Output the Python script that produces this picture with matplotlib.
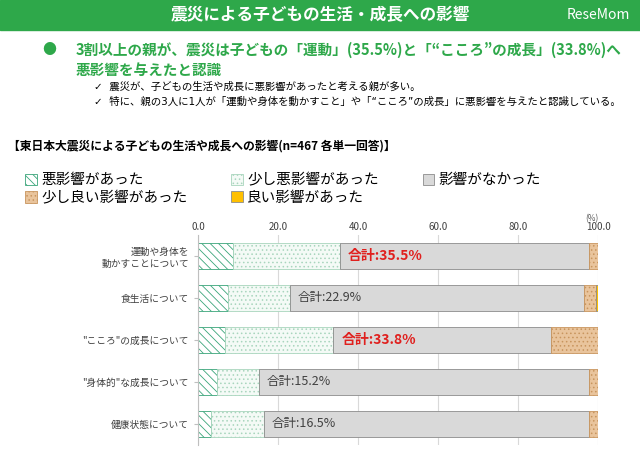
import numpy as np
import matplotlib.pyplot as plt
from matplotlib.patches import Rectangle

plt.rcParams['font.family'] = 'Noto Sans CJK JP'
plt.rcParams['hatch.linewidth'] = 0.6

categories = ['運動や身体を\n動かすことについて', '食生活について', '"こころ"の成長について',
              '"身体的"な成長について', '健康状態について']
bad = [8.7, 7.4, 6.8, 4.7, 3.3]
little_bad = [26.8, 15.5, 27.0, 10.5, 13.2]
none = [62.2, 73.6, 54.4, 82.5, 81.2]
little_good = [2.3, 2.9, 11.8, 2.3, 2.3]
good = [0.0, 0.6, 0.0, 0.0, 0.0]
totals = ['合計:35.5%', '合計:22.9%', '合計:33.8%', '合計:15.2%', '合計:16.5%']
highlight = [True, False, True, False, False]

series = [
    ('悪影響があった', bad, '#ffffff', '#3aa57a', '\\\\\\\\'),
    ('少し悪影響があった', little_bad, '#f4faf6', '#a8d5bd', '....'),
    ('影響がなかった', none, '#d9d9d9', '#d9d9d9', None),
    ('少し良い影響があった', little_good, '#e9c49c', '#c8955e', '....'),
    ('良い影響があった', good, '#ffc000', '#ffc000', None),
]

fig = plt.figure(figsize=(6.4, 4.59), dpi=100)

# header band
fig.patches.append(Rectangle((0, 1 - 30 / 459), 1, 30 / 459, transform=fig.transFigure,
                             color='#2ea84a', zorder=0))
fig.text(0.5, 1 - 15 / 459, '震災による子どもの生活・成長への影響', color='white',
         fontsize=12, fontweight='bold', ha='center', va='center')
fig.text(0.985, 1 - 15 / 459, 'ReseMom', color='white', fontsize=10, ha='right', va='center')

fig.text(42 / 640, 1 - 50 / 459, '●', color='#2ea84a', fontsize=10, va='center')
fig.text(76 / 640, 1 - 50 / 459, '3割以上の親が、震災は子どもの「運動」(35.5%)と「“こころ”の成長」(33.8%)へ',
         color='#2ea84a', fontsize=10.5, fontweight='bold', va='center')
fig.text(76 / 640, 1 - 70 / 459, '悪影響を与えたと認識', color='#2ea84a', fontsize=10.5,
         fontweight='bold', va='center')
t = fig.text(94 / 640, 1 - 87 / 459, '✓  震災が、子どもの生活や成長に悪影響があったと考える親が多い。',
             fontsize=7.5, va='center')
t.set_fontfamily(['DejaVu Sans', 'Noto Sans CJK JP'])
t = fig.text(94 / 640, 1 - 102 / 459, '✓  特に、親の3人に1人が「運動や身体を動かすこと」や「“こころ”の成長」に悪影響を与えたと認識している。',
             fontsize=7.5, va='center')
t.set_fontfamily(['DejaVu Sans', 'Noto Sans CJK JP'])
fig.text(8 / 640, 1 - 146 / 459, '【東日本大震災による子どもの生活や成長への影響(n=467 各単一回答)】',
         fontsize=8.5, fontweight='bold', va='center')

ax = fig.add_axes([198 / 640, 14 / 459, 400 / 640, 210 / 459])
y = np.arange(len(categories))
left = np.zeros(len(categories))
handles = []
for name, vals, fc, ec, hatch in series:
    h = ax.barh(y, vals, left=left, height=0.62, color=fc, edgecolor=ec if hatch else '#8c8c8c',
                hatch=hatch, linewidth=0.6, label=name, zorder=2)
    handles.append(h)
    left += np.array(vals)

for i in range(len(categories)):
    start = bad[i] + little_bad[i]
    if highlight[i]:
        ax.text(start + 2, y[i], totals[i], color='#e0201e', fontsize=10, fontweight='bold',
                va='center', zorder=3)
    else:
        ax.text(start + 2, y[i], totals[i], color='#404040', fontsize=9, va='center', zorder=3)

ax.set_xlim(0, 100)
ax.set_ylim(len(categories) - 0.5, -0.5)
ax.set_xticks(np.arange(0, 101, 20))
ax.set_xticklabels([f'{v:.1f}' for v in np.arange(0, 101, 20)], fontsize=7, color='#404040')
ax.xaxis.tick_top()
ax.tick_params(axis='x', length=0, pad=2)
ax.set_yticks(y)
ax.set_yticklabels(categories, fontsize=7, color='#404040')
ax.tick_params(axis='y', length=3, color='#bfbfbf')
ax.grid(axis='x', color='#d9d9d9', linewidth=0.8, zorder=0)
ax.set_axisbelow(True)
for s in ['top', 'right', 'bottom']:
    ax.spines[s].set_visible(False)
ax.spines['left'].set_color('#bfbfbf')
ax.text(100, -0.78, '(%)', fontsize=6, color='#595959', ha='right', va='bottom')

# legend is filled column by column; reorder so rows read left to right
order = [0, 3, 1, 4, 2]
fig.legend(handles=[handles[k] for k in order], loc='upper left',
           bbox_to_anchor=(12 / 640, 1 - 160 / 459),
           ncol=3, frameon=False, fontsize=10.5, handlelength=0.8, handleheight=0.8,
           columnspacing=3.0, handletextpad=0.3, labelspacing=0.25)

fig.savefig('out.png', dpi=100)
